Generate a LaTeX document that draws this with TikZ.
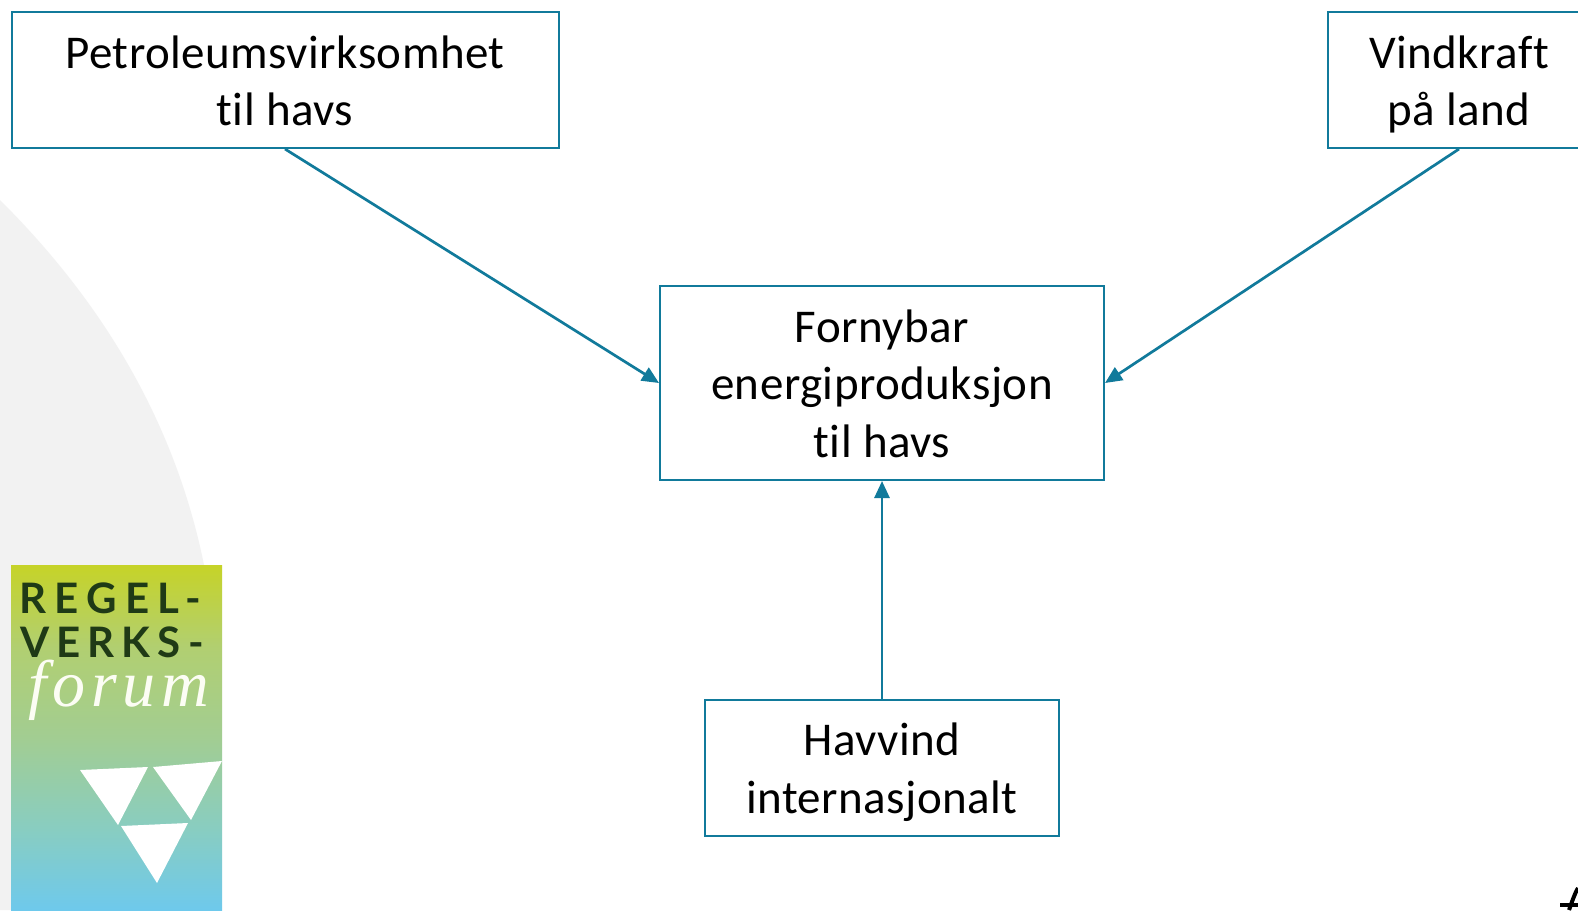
\documentclass[tikz,border=0pt]{standalone}
\usepackage{fontspec}
\setmainfont[LetterSpace=1,Ligatures=CommonOff]{Carlito}
\newfontfamily\logofont[LetterSpace=17]{Lato}
\newfontfamily\handfont[LetterSpace=9]{Liberation Serif}
\usetikzlibrary{arrows.meta}
\definecolor{teal1}{HTML}{117A9B}
\definecolor{bggray}{HTML}{F2F2F2}
\definecolor{logodark}{HTML}{1F3A16}
\definecolor{lgA}{HTML}{C6D328}
\definecolor{lgA1}{HTML}{B1CF71}
\definecolor{lgM}{HTML}{A2CD92}
\definecolor{lgM2}{HTML}{89CDC0}
\definecolor{lgC}{HTML}{6EC9EC}
\pgfdeclareverticalshading{logoshade}{100bp}{
 color(0bp)=(lgC); color(25bp)=(lgC); color(37bp)=(lgM2); color(50bp)=(lgM); color(63bp)=(lgA1); color(75bp)=(lgA); color(100bp)=(lgA)}
\newcommand{\ls}{\rule[-12pt]{0pt}{57.5pt}}
\tikzset{
 box/.style={draw=teal1,line width=2pt,inner sep=0pt,align=center,font=\fontsize{47}{57.5}\selectfont,text=black},
 conn/.style={draw=teal1,line width=2.7pt,-{Triangle[length=17pt,width=15pt]}},
 logotext/.style={inner sep=0pt,anchor=base west,text=logodark,font=\logofont\bfseries\fontsize{42}{42}\selectfont},
 logoform/.style={inner sep=0pt,anchor=base west,text=white!95!lgA,font=\handfont\itshape\fontsize{66}{66}\selectfont},
 tri/.style={fill=white,draw=none}
}
\begin{document}
\begin{tikzpicture}[x=1pt,y=-1pt]
\useasboundingbox (0,0) rectangle (1578,910);
\clip (0,0) rectangle (1578,910);
\fill[white] (0,0) rectangle (1578,910);
\fill[bggray] (0,200) .. controls (70,270) and (170,390) .. (205,570) -- (205,910) -- (0,910) -- cycle;
\shade[shading=logoshade] (11,565) rectangle (222,910);
\fill[tri] (80,770) -- (148,767) -- (118,825) -- cycle;
\fill[tri] (153,767) -- (222,761) -- (191,820) -- cycle;
\fill[tri] (121,826) -- (188,823) -- (157,883) -- cycle;
\node[logotext] (regel) at (19,613) {\addfontfeature{LetterSpace=20}REGEL-};
\node[logotext] (verks) at (20,657) {VERKS-};
\node[logoform] (forum) at (28,706) {forum};
\node[box,minimum width=547pt,minimum height=136pt] (petro) at (285,80) {\ls Petroleumsvirksomhet\\\ls til havs};
\node[box,minimum width=262pt,minimum height=136pt] (vind) at (1459,80) {\ls Vindkraft\\\ls på land};
\node[box,minimum width=444pt,minimum height=194pt] (forn) at (882,383) {\ls Fornybar\\\ls energiproduksjon\\\ls til havs};
\node[box,minimum width=354pt,minimum height=136pt] (hav) at (882,767.5) {\ls Havvind\\\ls internasjonalt};
\draw[conn] (petro.south) -- (forn.west);
\draw[conn] (vind.south) -- (forn.east);
\draw[conn] (hav.north) -- (forn.south);
\draw[black,line width=4pt] (1560,905) -- (1578,905);
\draw[black,line width=4pt] (1569,910) .. controls (1572,902) and (1574,895) .. (1578,888);
\end{tikzpicture}
\end{document}
